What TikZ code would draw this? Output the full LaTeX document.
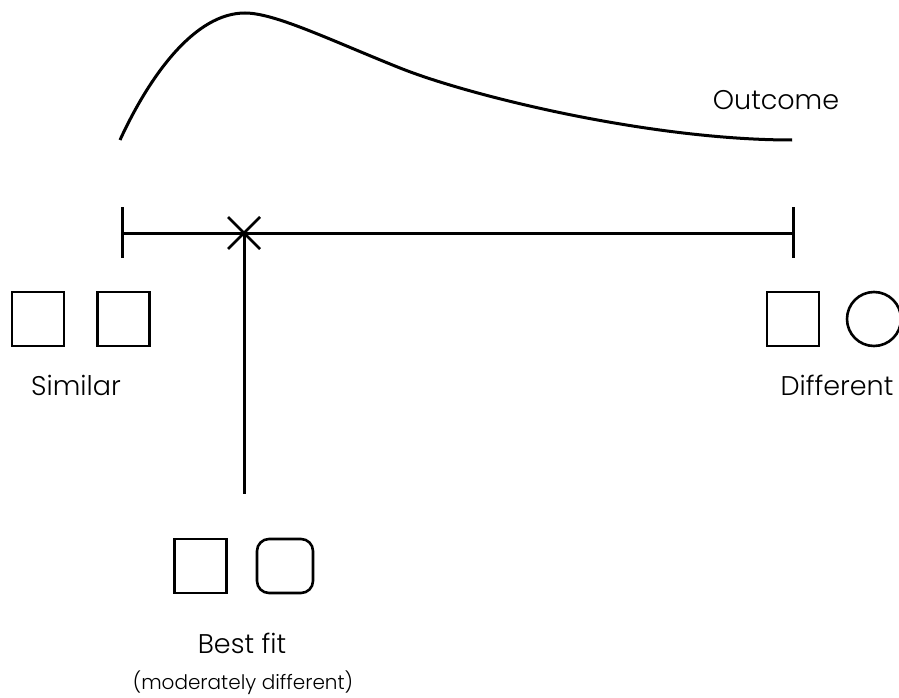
\documentclass[tikz,border=0pt]{standalone}
\usepackage{fontspec}
\setmainfont{Poppins}[UprightFont=* Light]
\begin{document}
\begin{tikzpicture}[x=1pt,y=-1pt,
  thick line/.style={line width=3pt},
  cross line/.style={line width=2.6pt},
  sqbox/.style={draw,line width=2.6pt,minimum width=52pt,minimum height=54pt,inner sep=0pt},
  rbox/.style={sqbox,minimum width=56pt,rounded corners=12pt},
  cbox/.style={draw,circle,line width=2.6pt,minimum size=54pt,inner sep=0pt},
  lbl/.style={font=\fontsize{27}{31}\selectfont,inner sep=0pt},
  sublbl/.style={font=\fontsize{20}{24}\selectfont,inner sep=0pt}]
\useasboundingbox (0,0) rectangle (899,698);
% outcome curve
\coordinate (c0) at (120,140);
\coordinate (c1) at (245,13);
\coordinate (c2) at (400,68);
\coordinate (c3) at (792,140);
\draw[thick line] (c0) .. controls (150,75) and (195,13) .. (c1)
  .. controls (275,13) and (330,40) .. (c2)
  .. controls (470,96) and (650,140) .. (c3);
\node[lbl] (outcome) at (776,100) {Outcome};
% axis
\coordinate (L) at (122,233);
\coordinate (R) at (793,233);
\coordinate (Lt) at (122,207);
\coordinate (Lb) at (122,258);
\coordinate (Rt) at (793,207);
\coordinate (Rb) at (793,258);
\coordinate (X) at (244,233);
\coordinate (B) at (244,494);
\coordinate (Xa) at (228,217);
\coordinate (Xb) at (260,249);
\coordinate (Xc) at (228,249);
\coordinate (Xd) at (260,217);
\draw[thick line] (L) -- (R);
\draw[thick line] (Lt) -- (Lb);
\draw[thick line] (Rt) -- (Rb);
\draw[thick line] (X) -- (B);
\draw[cross line] (Xa) -- (Xb);
\draw[cross line] (Xc) -- (Xd);
% similar
\node[sqbox] (s1) at (38,319) {};
\node[sqbox] (s2) at (123.5,319) {};
\node[lbl] (similar) at (76,385) {Similar};
% different
\node[sqbox] (d1) at (793,319) {};
\node[cbox] (d2) at (874,319) {};
\node[lbl] (different) at (837,385) {Different};
% best fit
\node[sqbox] (b1) at (200.5,566) {};
\node[rbox] (b2) at (285,566) {};
\node[lbl] (best) at (242,643) {Best fit};
\node[sublbl] (mod) at (243,683) {(moderately different)};
\end{tikzpicture}
\end{document}
